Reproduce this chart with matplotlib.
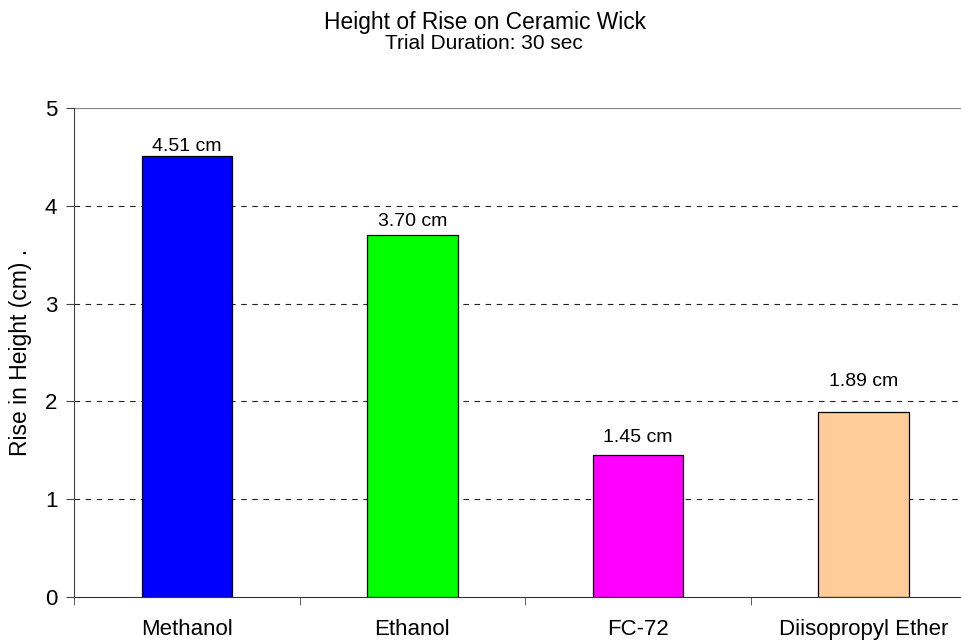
import numpy as np
import matplotlib.pyplot as plt

plt.rcParams['font.family'] = ['Liberation Sans', 'DejaVu Sans']

liquids = ['Methanol', 'Ethanol', 'FC-72', 'Diisopropyl Ether']
rise_cm = [4.51, 3.70, 1.45, 1.89]
bar_colors = ['#0000FF', '#00FF00', '#FF00FF', '#FFCC99']
# how far each value label sits above its bar (points)
label_offsets = [7, 9.5, 13, 22]

fig = plt.figure(figsize=(9.61, 6.42), dpi=100)
ax = fig.add_axes([0.077, 0.070, 0.939, 0.762])

x = np.arange(len(liquids))
ax.bar(x, rise_cm, width=0.4, color=bar_colors, edgecolor='black', linewidth=0.9, zorder=3)

for xi, v, off in zip(x, rise_cm, label_offsets):
    ax.annotate(f'{v:.2f} cm', (xi, v), xytext=(0, off), textcoords='offset points',
                ha='center', va='center', fontsize=14)

ax.set_xlim(-0.5, len(liquids) - 0.5)
ax.set_ylim(0, 5)
ax.set_yticks(range(6))
ax.set_xticks(x)
ax.set_xticklabels(liquids, fontsize=16)
ax.set_xticks(np.arange(len(liquids) + 1) - 0.5, minor=True)
ax.tick_params(axis='x', which='major', length=0, pad=15.5)
ax.tick_params(axis='x', which='minor', length=6, direction='out', color='#444444')
ax.tick_params(axis='y', length=6, direction='out', labelsize=16, pad=6, color='#444444')

for yv in range(1, 5):
    ax.axhline(yv, color='#222222', linestyle=(0, (5, 5)), linewidth=0.8, zorder=1)
ax.axhline(5, color='#888888', linewidth=0.9, zorder=1)

for side in ['top', 'right']:
    ax.spines[side].set_visible(False)
ax.spines['left'].set_color('#444444')
ax.spines['bottom'].set_color('#333333')

ax.set_ylabel('Rise in Height (cm) .', fontsize=16.5, labelpad=9)

fig.text(0.505, 1 - 22 / 642, 'Height of Rise on Ceramic Wick', ha='center', va='center', fontsize=16.4)
fig.text(0.503, 1 - 43.5 / 642, 'Trial Duration: 30 sec', ha='center', va='center', fontsize=15)

plt.savefig('out.png', dpi=100)
